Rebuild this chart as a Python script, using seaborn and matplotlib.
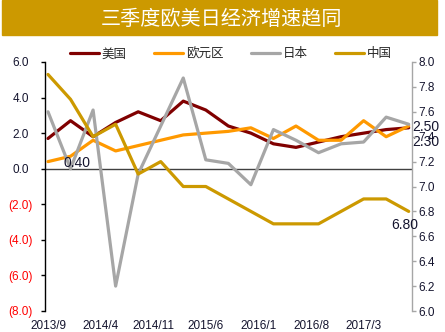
import matplotlib
matplotlib.use("Agg")
import matplotlib.pyplot as plt
import matplotlib.transforms as mtransforms
from matplotlib.lines import Line2D
from matplotlib.patches import Rectangle
from matplotlib.ticker import FixedLocator, FuncFormatter
import pandas as pd
import seaborn as sns

# Quarterly GDP growth, Q3 2013 - Q3 2017
quarters = ["2013/9", "2013/12", "2014/3", "2014/6", "2014/9", "2014/12",
            "2015/3", "2015/6", "2015/9", "2015/12", "2016/3", "2016/6",
            "2016/9", "2016/12", "2017/3", "2017/6", "2017/9"]
us = [1.7, 2.7, 1.8, 2.6, 3.2, 2.7, 3.8, 3.3, 2.4, 2.0, 1.4, 1.2, 1.5, 1.8, 2.0, 2.2, 2.3]
euro = [0.4, 0.7, 1.6, 1.0, 1.3, 1.6, 1.9, 2.0, 2.1, 2.3, 1.7, 2.4, 1.6, 1.6, 2.7, 1.8, 2.4]
japan = [3.2, 0.0, 3.3, -6.6, -0.3, 2.4, 5.1, 0.5, 0.3, -0.9, 2.2, 1.6, 0.9, 1.4, 1.5, 2.9, 2.5]
china = [7.9, 7.7, 7.4, 7.5, 7.1, 7.2, 7.0, 7.0, 6.9, 6.8, 6.7, 6.7, 6.7, 6.8, 6.9, 6.9, 6.8]
series_names = ["美国", "欧元区", "日本", "中国"]
x_tick_labels = ["2013/9", "2014/4", "2014/11", "2015/6", "2016/1", "2016/8", "2017/3"]
left_ticks = [6, 4, 2, 0, -2, -4, -6, -8]
right_ticks = [8.0, 7.8, 7.6, 7.4, 7.2, 7.0, 6.8, 6.6, 6.4, 6.2, 6.0]
title = "三季度欧美日经济增速趋同"

colors = {"美国": "#800000", "欧元区": "#FF9900", "日本": "#A6A6A6", "中国": "#CC9900"}
text_color = "#14142E"


def month_index(label):
    y, m = label.split("/")
    return (int(y) - 2013) * 12 + int(m) - 9


months = [month_index(q) for q in quarters]
tick_months = [month_index(t) for t in x_tick_labels]

df = pd.DataFrame({
    "month": months * 3,
    "value": us + euro + japan,
    "series": [series_names[0]] * len(us) + [series_names[1]] * len(euro) + [series_names[2]] * len(japan),
})

sns.set_theme(style="white")
plt.rcParams["font.family"] = ["Liberation Sans", "Noto Sans CJK SC", "DejaVu Sans"]

W, H = 445, 332
fig = plt.figure(figsize=(W / 100, H / 100), dpi=100)
fig.patch.set_facecolor("white")

# title banner
fig.patches.append(Rectangle((2 / W, 1 - 35 / H), 435 / W, 35 / H,
                             transform=fig.transFigure, color="#CC9900", zorder=0))
fig.text(221 / W, 1 - 19.5 / H, title, color="white", fontsize=14.5,
         ha="center", va="center", family=["Noto Sans CJK SC", "DejaVu Sans"])

ax = fig.add_axes([45 / W, 1 - 311 / H, (411.7 - 45) / W, (311 - 62) / H])
ax.set_facecolor("none")
lw = 2.3
ax.axhline(0, color="#404040", lw=1.0, zorder=1)
sns.lineplot(data=df, x="month", y="value", hue="series",
             hue_order=series_names[:3], palette=colors, linewidth=lw,
             sort=False, legend=False, ax=ax, zorder=3)

ax2 = ax.twinx()
sns.lineplot(x=months, y=china, color=colors["中国"], linewidth=lw, sort=False, ax=ax2)

ax.set_xlim(-0.4, 48.4)
ax.set_ylim(-8, 6)
ax2.set_ylim(6, 8)

ax.xaxis.set_major_locator(FixedLocator(tick_months))
ax.set_xticklabels(x_tick_labels)
ax.tick_params(axis="x", length=0, pad=6.5, labelsize=8.5, labelcolor=text_color)
ax.set_xlabel("")
ax.set_ylabel("")

ax.yaxis.set_major_locator(FixedLocator(left_ticks))
ax.yaxis.set_major_formatter(FuncFormatter(
    lambda v, p: f"({abs(v):.1f})" if v < 0 else f"{v:.1f}"))
ax.tick_params(axis="y", left=True, direction="out", length=3, width=1,
               color="black", pad=6.0, labelsize=8.5)
for lab, v in zip(ax.get_yticklabels(), left_ticks):
    lab.set_color("#FF0000" if v < 0 else text_color)
    if v >= 0:
        lab.set_transform(lab.get_transform() +
                          mtransforms.ScaledTranslation(-2.5 / 72, 0, fig.dpi_scale_trans))

ax2.yaxis.set_major_locator(FixedLocator(right_ticks))
ax2.yaxis.set_major_formatter(FuncFormatter(lambda v, p: f"{v:.1f}"))
ax2.tick_params(axis="y", right=True, direction="out", length=3, width=1,
                color="#A6A6A6", pad=2.0, labelsize=8.5, labelcolor=text_color)
ax2.set_ylabel("")

for a in (ax, ax2):
    for s in a.spines.values():
        s.set_visible(False)
ax.spines["left"].set_visible(True)
ax.spines["left"].set_color("black")
ax.spines["left"].set_linewidth(1)
ax2.spines["right"].set_visible(True)
ax2.spines["right"].set_color("#A6A6A6")
ax2.spines["right"].set_linewidth(1)
ax.grid(False)
ax2.grid(False)

# value labels
px = 72 / 100
ax.annotate(f"{euro[0]:.2f}", xy=(months[0], euro[0]), xytext=(15 * px, -1 * px),
            textcoords="offset points", ha="left", va="center", fontsize=10, color=text_color)
ax.annotate(f"{japan[-1]:.2f}", xy=(months[-1], japan[-1]), xytext=(3.5 * px, -2.5 * px),
            textcoords="offset points", ha="left", va="center", fontsize=10, color=text_color)
ax.annotate(f"{us[-1]:.2f}", xy=(months[-1], us[-1]), xytext=(3.5 * px, -14.5 * px),
            textcoords="offset points", ha="left", va="center", fontsize=10, color=text_color)
ax2.annotate(f"{china[-1]:.2f}", xy=(months[-1], china[-1]), xytext=(-4 * px, -14 * px),
             textcoords="offset points", ha="center", va="center", fontsize=10, color=text_color)

handles = [Line2D([0], [0], color=colors[n], lw=lw) for n in series_names]
fig.legend(handles, series_names, loc="center", bbox_to_anchor=(231 / W, 1 - 54 / H),
           ncol=4, frameon=False, handlelength=2.3, handletextpad=0.25,
           columnspacing=2.2, prop={"family": ["Noto Sans CJK SC", "DejaVu Sans"], "size": 9})

fig.savefig("out.png", dpi=100)
